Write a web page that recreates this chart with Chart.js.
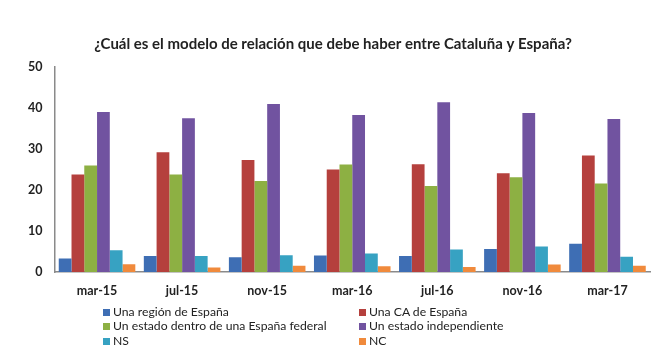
<!DOCTYPE html>
<html><head><meta charset="utf-8">
<script src="https://cdn.jsdelivr.net/npm/chart.js@4.4.1/dist/chart.umd.min.js"></script>
<style>
html,body{margin:0;padding:0;background:#fff;}
#wrap{position:relative;width:670px;height:355px;}
#c{position:absolute;left:0;top:0;}
.lg{position:absolute;font-family:Lato,"Liberation Sans",sans-serif;font-size:12.2px;color:#222;line-height:14px;white-space:nowrap;}
.lg i{display:inline-block;width:7px;height:7px;margin-right:3px;vertical-align:0px;}
</style></head>
<body><div id="wrap"><canvas id="c" width="670" height="355"></canvas><div id="legend"></div></div>
<script>
const categories = ["mar-15","jul-15","nov-15","mar-16","jul-16","nov-16","mar-17"];
const seriesNames = ["Una región de España","Una CA de España","Un estado dentro de una España federal","Un estado independiente","NS","NC"];
const region      = [3.3, 3.9, 3.6, 4.0, 3.9, 5.6, 6.9];
const ca          = [23.8, 29.2, 27.3, 25.0, 26.3, 24.1, 28.4];
const federal     = [26.0, 23.8, 22.2, 26.2, 21.0, 23.1, 21.6];
const independ    = [39.0, 37.5, 41.0, 38.3, 41.4, 38.8, 37.3];
const ns          = [5.3, 3.9, 4.1, 4.5, 5.5, 6.2, 3.7];
const nc          = [1.9, 1.1, 1.5, 1.4, 1.2, 1.8, 1.5];
const yTicks = [0, 10, 20, 30, 40, 50];
const titleText = "¿Cuál es el modelo de relación que debe haber entre Cataluña y España?";

const colors = ["#3E6EB4","#B5403D","#8DB043","#7153A0","#37A2C2","#F08A3C"];
const allSeries = [region, ca, federal, independ, ns, nc];

const datasets = allSeries.map((d, i) => ({
  label: seriesNames[i], data: d, backgroundColor: colors[i], borderWidth: 0,
  barPercentage: 1.0, categoryPercentage: 0.9
}));

new Chart(document.getElementById('c'), {
  type: 'bar',
  data: { labels: categories, datasets },
  options: {
    responsive: false, animation: false,
    layout: { padding: { left: 16, right: 20, top: 35, bottom: 46 } },
    plugins: {
      legend: { display: false },
      tooltip: { enabled: false },
      title: { display: true, text: titleText, color: '#222',
        font: { family: 'Lato', size: 15, weight: 'bold' }, padding: { top: 0, bottom: 14 } }
    },
    scales: {
      x: {
        grid: { display: false, drawTicks: false },
        border: { display: true, color: '#8a8a8a', width: 1.5 },
        ticks: { color: '#222', font: { family: 'Lato', size: 12.5, weight: 'bold' }, padding: 11 }
      },
      y: {
        min: 0, max: 50,
        afterBuildTicks: (ax) => { ax.ticks = yTicks.map(v => ({ value: v })); },
        grid: { display: false, drawTicks: false },
        border: { display: true, color: '#8a8a8a', width: 1.5 },
        ticks: { color: '#222', font: { family: 'Lato', size: 12.5, weight: 'bold' }, padding: 12 }
      }
    }
  }
});

const lg = document.getElementById('legend');
const pos = [[103,305],[359,305],[103,319],[359,319],[103,334],[359,334]];
seriesNames.forEach((n, i) => {
  const d = document.createElement('div');
  d.className = 'lg';
  d.style.left = pos[i][0] + 'px';
  d.style.top = pos[i][1] + 'px';
  d.innerHTML = '<i style="background:' + colors[i] + '"></i>';
  d.appendChild(document.createTextNode(n));
  lg.appendChild(d);
});
</script></body></html>
